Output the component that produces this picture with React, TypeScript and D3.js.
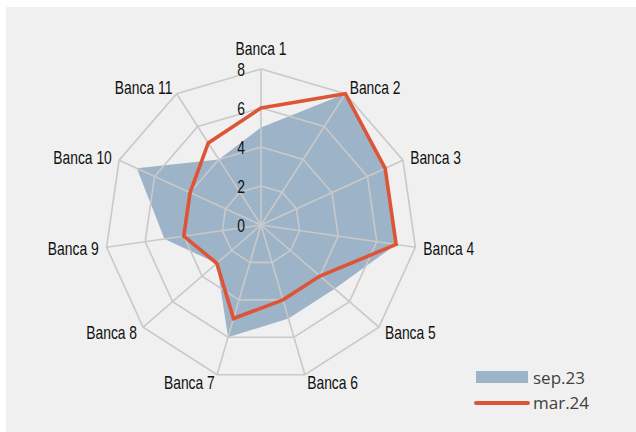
import React from 'react';
import * as d3 from 'd3';

const banks = ['Banca 1', 'Banca 2', 'Banca 3', 'Banca 4', 'Banca 5', 'Banca 6', 'Banca 7', 'Banca 8', 'Banca 9', 'Banca 10', 'Banca 11'];
const sep23 = [5, 8, 7, 7, 5, 5, 6, 3, 5, 7, 4];
const mar24 = [6, 8, 7, 7, 4, 4, 5, 3, 4, 4, 5];
const ticks = [0, 2, 4, 6, 8];

const W = 636;
const H = 432;
const cx = 261;
const cy = 225;
const labelFont = '"Liberation Sans", Arial, sans-serif';
const squeeze = 0.77;

// condensed-looking label: regular font squeezed horizontally
const Label = ({ x, y, anchor, baseline, children }: any) => (
    <text transform={`translate(${x},${y}) scale(${squeeze},1)`} textAnchor={anchor}
        dominantBaseline={baseline} fontFamily={labelFont} fontSize={18} fill="#111">{children}</text>
);

const App = () => {
    const r = d3.scaleLinear().domain([0, 8]).range([0, 156]);
    const angle = (i: number) => (i * 2 * Math.PI) / banks.length;

    const pt = (i: number, rad: number): [number, number] => [
        cx + rad * Math.sin(angle(i)),
        cy - rad * Math.cos(angle(i)),
    ];

    const radial = d3.lineRadial<number>()
        .angle((_, i) => angle(i))
        .radius(d => r(d))
        .curve(d3.curveLinearClosed);

    const gridRings = ticks.filter(t => t > 0).map(t => banks.map(() => t));

    return (
        <svg width={W} height={H} style={{ position: 'absolute', left: 0, top: 0 }}>
            <rect x={6} y={7} width={W - 6} height={H - 7} fill="#f0f0f0" />
            <g transform={`translate(${cx},${cy})`}>
                <path d={radial(sep23) || ''} fill="#9db3c8" stroke="none" />
                {gridRings.map((ring, k) => (
                    <path key={k} d={radial(ring) || ''} fill="none" stroke="#c9c9c9" strokeWidth={1.6} />
                ))}
            </g>
            {banks.map((b, i) => {
                const [x2, y2] = pt(i, r(8));
                return <line key={b} x1={cx} y1={cy} x2={x2} y2={y2} stroke="#c9c9c9" strokeWidth={1.6} />;
            })}
            <g transform={`translate(${cx},${cy})`}>
                <path d={radial(mar24) || ''} fill="none" stroke="#dd5536" strokeWidth={3.6} strokeLinejoin="miter" />
            </g>
            {ticks.map(t => (
                <Label key={t} x={245} y={cy - r(t)} anchor="end" baseline="central">{t}</Label>
            ))}
            {banks.map((b, i) => {
                const [x, y] = pt(i, r(8) + 8);
                const s = Math.sin(angle(i));
                const anchor = i === 0 ? 'middle' : s > 0 ? 'start' : 'end';
                return (
                    <Label key={b} x={x} y={i === 0 ? y - 6 : y} anchor={anchor}
                        baseline={i === 0 ? 'auto' : 'central'}>{b}</Label>
                );
            })}
            <rect x={476} y={371} width={52} height={12} fill="#9db3c8" />
            <text x={533} y={377} dominantBaseline="central" fontFamily='"Open Sans", sans-serif' fontSize={17} fill="#404040">sep.23</text>
            <line x1={476} y1={403} x2={528} y2={403} stroke="#dd5536" strokeWidth={4} strokeLinecap="round" />
            <text x={533} y={402} dominantBaseline="central" fontFamily='"Open Sans", sans-serif' fontSize={17} fill="#404040">mar.24</text>
        </svg>
    );
};

export default App;
